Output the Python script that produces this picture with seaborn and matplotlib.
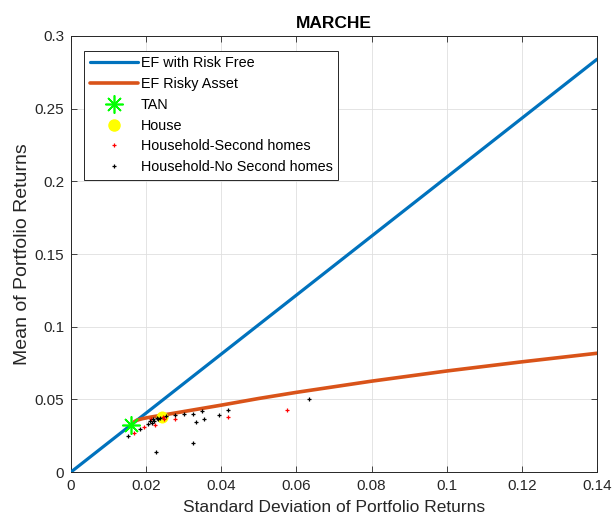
import matplotlib
matplotlib.use("Agg")
import matplotlib.pyplot as plt
import seaborn as sns
import pandas as pd
from matplotlib.lines import Line2D

# ---- data ----
ef_rf_sigma = [0.0, 0.14]
ef_rf_mu = [0.0, 0.284]

ef_risky_sigma = [0.0168, 0.0175, 0.019, 0.021, 0.025, 0.03, 0.04, 0.05, 0.06, 0.08, 0.10, 0.12, 0.14]
ef_risky_mu = [0.0345, 0.0356, 0.0367, 0.0377, 0.0394, 0.0416, 0.0460, 0.0506, 0.0548, 0.0625, 0.0695, 0.0758, 0.0817]

tan_sigma = [0.0161]
tan_mu = [0.0326]

house_sigma = [0.0241]
house_mu = [0.0380]

second_sigma = [0.0168, 0.0193, 0.0212, 0.0224, 0.0246, 0.0248, 0.0277, 0.0417, 0.0574]
second_mu = [0.0271, 0.0312, 0.0363, 0.0324, 0.0377, 0.0367, 0.0365, 0.0381, 0.0427]

nosecond_sigma = [0.0153, 0.0184, 0.0206, 0.0210, 0.0215, 0.0219, 0.0222, 0.0228, 0.0232, 0.0237,
                  0.0252, 0.0226, 0.0277, 0.0302, 0.0326, 0.0334, 0.0349, 0.0355, 0.0394, 0.0419,
                  0.0634, 0.0324]
nosecond_mu = [0.0248, 0.0294, 0.0330, 0.0351, 0.0340, 0.0365, 0.0353, 0.0370, 0.0368, 0.0374,
               0.0383, 0.0140, 0.0395, 0.0401, 0.0401, 0.0347, 0.0420, 0.0364, 0.0394, 0.0425,
               0.0503, 0.0200]

# ---- style ----
sns.set_theme(style="white")
plt.rcParams['font.family'] = ['Liberation Sans', 'DejaVu Sans']
txt = '#262626'

fig = plt.figure(figsize=(6.12, 5.27), dpi=100)
ax = fig.add_axes([71/612, 55/527, 526/612, 436/527])

blue = '#0072BD'
orange = '#D95319'

sns.lineplot(x=ef_rf_sigma, y=ef_rf_mu, ax=ax, color=blue, linewidth=2.3, sort=False, zorder=3)
sns.lineplot(x=ef_risky_sigma, y=ef_risky_mu, ax=ax, color=orange, linewidth=2.6, sort=False, zorder=3)

sns.scatterplot(x=house_sigma, y=house_mu, ax=ax, color='#FFFF00', marker='o', s=75,
                edgecolor='#FFFF00', linewidth=0, zorder=4)
sns.scatterplot(x=second_sigma, y=second_mu, ax=ax, color='#FF0000', marker='+', s=10,
                linewidth=0.9, zorder=5)
sns.scatterplot(x=nosecond_sigma, y=nosecond_mu, ax=ax, color='black', marker='+', s=10,
                linewidth=0.9, zorder=5)
ax.plot(tan_sigma, tan_mu, linestyle='none', marker=(8, 2, 0), markersize=13,
        markeredgewidth=1.2, color='#00FF00', zorder=6)

ax.set_xlim(0, 0.14)
ax.set_ylim(0, 0.3)
ax.set_xticks([0, 0.02, 0.04, 0.06, 0.08, 0.1, 0.12, 0.14])
ax.set_xticklabels(['0', '0.02', '0.04', '0.06', '0.08', '0.1', '0.12', '0.14'])
ax.set_yticks([0, 0.05, 0.1, 0.15, 0.2, 0.25, 0.3])
ax.set_yticklabels(['0', '0.05', '0.1', '0.15', '0.2', '0.25', '0.3'])

ax.grid(True, color='#DFDFDF', linewidth=0.6)
ax.set_axisbelow(True)
for s in ax.spines.values():
    s.set_visible(True)
    s.set_color(txt)
    s.set_linewidth(0.7)
ax.tick_params(direction='in', length=4, width=0.6, colors=txt, labelsize=11,
               top=True, right=True, bottom=True, left=True, pad=5)

ax.set_xlabel('Standard Deviation of Portfolio Returns', fontsize=12.5, color=txt, labelpad=5)
ax.set_ylabel('Mean of Portfolio Returns', fontsize=14, color=txt, labelpad=2.5)
ax.set_title('MARCHE', fontsize=12.5, fontweight='bold', color='black', pad=6)

handles = [
    Line2D([], [], color=blue, linewidth=2.3),
    Line2D([], [], color=orange, linewidth=2.6),
    Line2D([], [], linestyle='none', marker=(8, 2, 0), markersize=13, markeredgewidth=1.2, color='#00FF00'),
    Line2D([], [], linestyle='none', marker='o', markersize=8, color='#FFFF00'),
    Line2D([], [], linestyle='none', marker='+', markersize=3, markeredgewidth=0.9, color='#FF0000'),
    Line2D([], [], linestyle='none', marker='+', markersize=3, markeredgewidth=0.9, color='black'),
]
labels = ['EF with Risk Free', 'EF Risky Asset', 'TAN', 'House',
          'Household-Second homes', 'Household-No Second homes']
leg = ax.legend(handles, labels, loc='upper left', bbox_to_anchor=(0.0253, 0.966),
                borderaxespad=0, fontsize=10.4, handlelength=3.35, handletextpad=0.2,
                labelspacing=0.47, borderpad=0.38, fancybox=False, framealpha=1,
                edgecolor=txt, frameon=True)
leg.get_frame().set_linewidth(0.7)
for t in leg.get_texts():
    t.set_color('black')

fig.savefig('out.png', dpi=100)
